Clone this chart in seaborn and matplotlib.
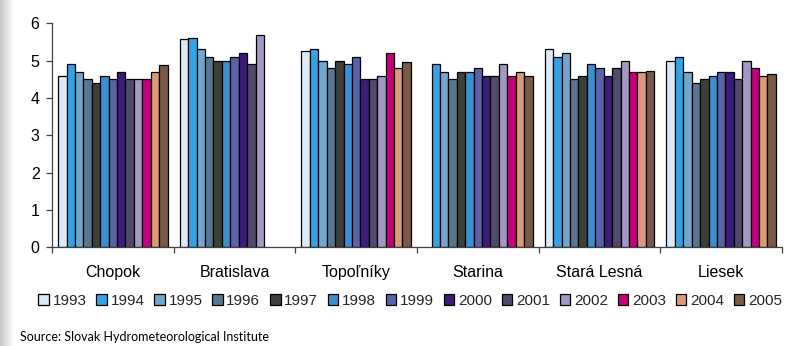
import numpy as np
import pandas as pd
import matplotlib
matplotlib.use("Agg")
import matplotlib.pyplot as plt
import seaborn as sns

stations = ["Chopok", "Bratislava", "Topoľníky", "Starina", "Stará Lesná", "Liesek"]
years = [str(y) for y in range(1993, 2006)]

nan = np.nan
chopok      = [4.6, 4.9, 4.7, 4.5, 4.4, 4.6, 4.5, 4.7, 4.5, 4.5, 4.5, 4.7, 4.87]
bratislava  = [5.57, 5.6, 5.3, 5.1, 5.0, 5.0, 5.1, 5.2, 4.9, 5.7, nan, nan, nan]
topolniky   = [5.27, 5.3, 5.0, 4.8, 5.0, 4.9, 5.1, 4.5, 4.5, 4.6, 5.2, 4.8, 4.96]
starina     = [nan, 4.9, 4.7, 4.5, 4.7, 4.7, 4.8, 4.6, 4.6, 4.9, 4.6, 4.7, 4.6]
stara_lesna = [5.3, 5.1, 5.2, 4.5, 4.6, 4.9, 4.8, 4.6, 4.8, 5.0, 4.7, 4.7, 4.73]
liesek      = [5.0, 5.1, 4.7, 4.4, 4.5, 4.6, 4.7, 4.7, 4.5, 5.0, 4.8, 4.6, 4.63]

year_colors = ["#dbeaf8", "#33a3e6", "#74a6cc", "#5b7690", "#3b4139", "#3a8fd3",
               "#5b63a8", "#3c1c7a", "#514a6a", "#a597c4", "#c4007a", "#dc9a76",
               "#7a5a45"]

series = [chopok, bratislava, topolniky, starina, stara_lesna, liesek]
rows = []
for st, vals in zip(stations, series):
    for yr, v in zip(years, vals):
        rows.append({"station": st, "year": yr, "value": v})
df = pd.DataFrame(rows)

sns.set_theme(style="white")
plt.rcParams["font.family"] = ["Liberation Sans", "DejaVu Sans"]

fig = plt.figure(figsize=(7.92, 3.46), dpi=100)
ax = fig.add_axes([52 / 792, 1 - 247.3 / 346, 730 / 792, 224 / 346])

sns.barplot(data=df, x="station", y="value", hue="year", order=stations,
            hue_order=years, palette=year_colors, saturation=1,
            edgecolor="black", linewidth=0.9, width=0.9, errorbar=None, ax=ax)

ax.set_xlim(-0.5, 5.5)
ax.set_ylim(0, 6)
ax.set_yticks(range(0, 7))
ax.set_xlabel("")
ax.set_ylabel("")

for side in ["top", "right"]:
    ax.spines[side].set_visible(False)
for side in ["left", "bottom"]:
    ax.spines[side].set_color("#404040")
    ax.spines[side].set_linewidth(0.9)

ax.tick_params(axis="y", which="major", left=True, length=4, width=0.9,
               color="#404040", labelsize=11.5, pad=5, labelcolor="black")
ax.set_xticks(np.arange(-0.5, 6.0, 1.0), minor=True)
ax.tick_params(axis="x", which="major", length=0, labelsize=11.5, pad=13,
               labelcolor="black")
ax.tick_params(axis="x", which="minor", bottom=True, length=4, width=0.9,
               color="#404040")

handles, labels = ax.get_legend_handles_labels()
ax.legend(handles, labels, loc="center", bbox_to_anchor=(410 / 792, 1 - 301 / 346),
          bbox_transform=fig.transFigure, ncol=13, frameon=False, fontsize=11,
          handlelength=0.7, handleheight=0.7, handletextpad=0.25,
          columnspacing=0.62, borderpad=0, borderaxespad=0)

fig.text(20 / 792, 1 - 337 / 346, "Source: Slovak Hydrometeorological Institute",
         fontsize=9, family=["Lato", "DejaVu Sans"], va="center", ha="left",
         color="black")

# soft grey shade along the left edge
shade = fig.add_axes([0, 0, 14 / 792, 1])
grad = np.linspace(0.78, 1.0, 64)[None, :]
shade.imshow(np.repeat(grad, 10, axis=0), cmap="gray", vmin=0, vmax=1,
             aspect="auto", extent=[0, 1, 0, 1])
shade.set_axis_off()

fig.savefig("out.png", dpi=100)
